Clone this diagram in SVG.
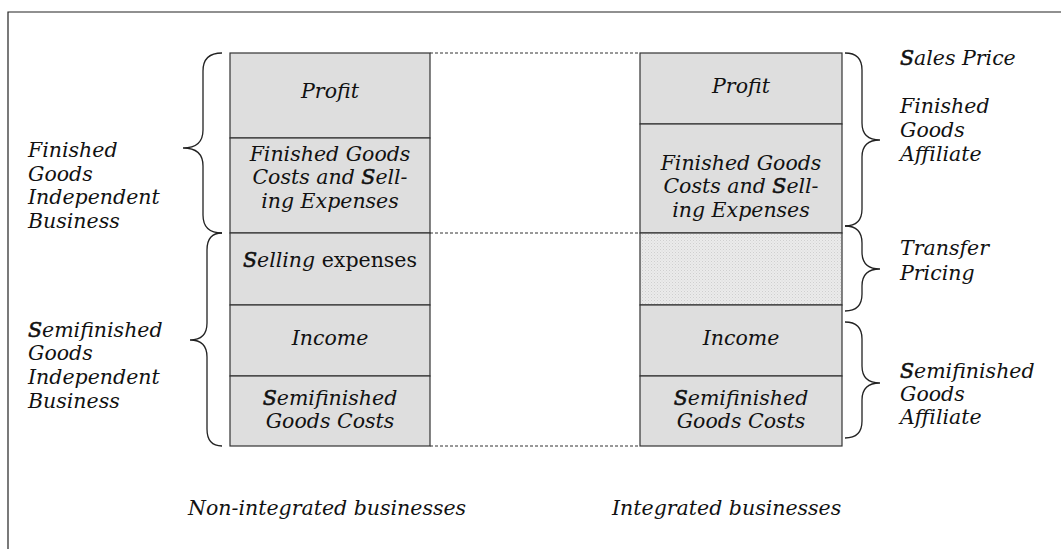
<svg xmlns="http://www.w3.org/2000/svg" width="1061" height="549" viewBox="0 0 1061 549">
  <style>
    text { font-family: "DejaVu Serif", "Liberation Serif", serif; font-style: italic; font-size: 20.5px; fill: #111; }
    .c { text-anchor: middle; }
    .up { font-style: normal; }
    .b { stroke: #111; stroke-width: 0.6; }
    .box { fill: #dedede; stroke: #333; stroke-width: 1.2; }
    .hatch { fill: url(#dots); stroke: #333; stroke-width: 1.2; }
    .brace { fill: none; stroke: #222; stroke-width: 1.3; }
    .dotted { stroke: #333; stroke-width: 1; stroke-dasharray: 3 2; fill: none; }
    .frame { stroke: #222; stroke-width: 1.2; fill: none; }
  </style>
  <defs>
    <pattern id="dots" width="3" height="3" patternUnits="userSpaceOnUse">
      <rect width="3" height="3" fill="#ebebeb"/>
      <rect x="0" y="0" width="1" height="1" fill="#cfcfcf"/>
      <rect x="1.5" y="1.5" width="1" height="1" fill="#d8d8d8"/>
    </pattern>
  </defs>
  <rect width="1061" height="549" fill="#fff"/>
  <path class="frame" d="M8,549 V12 H1061"/>

  <!-- dotted guide lines between the two columns -->
  <g id="connectors">
    <line class="dotted" x1="430" y1="53" x2="640" y2="53"/>
    <line class="dotted" x1="430" y1="233" x2="640" y2="233"/>
    <line class="dotted" x1="430" y1="446" x2="640" y2="446"/>
  </g>

  <!-- non-integrated column -->
  <g id="left-profit">
    <rect class="box" x="230" y="53" width="200" height="85"/>
    <text class="c" x="330" y="98">Profit</text>
  </g>
  <g id="left-finished-costs">
    <rect class="box" x="230" y="138" width="200" height="95"/>
    <text class="c" x="330" y="161">Finished Goods</text>
    <text class="c" x="330" y="184">Costs and <tspan class="b">S</tspan>ell-</text>
    <text class="c" x="330" y="208">ing Expenses</text>
  </g>
  <g id="left-selling">
    <rect class="box" x="230" y="233" width="200" height="72"/>
    <text class="c" x="330" y="267"><tspan class="b">S</tspan>elling <tspan class="up">expenses</tspan></text>
  </g>
  <g id="left-income">
    <rect class="box" x="230" y="305" width="200" height="71"/>
    <text class="c" x="330" y="345">Income</text>
  </g>
  <g id="left-semi-costs">
    <rect class="box" x="230" y="376" width="200" height="70"/>
    <text class="c" x="330" y="405"><tspan class="b">S</tspan>emifinished</text>
    <text class="c" x="330" y="428">Goods Costs</text>
  </g>

  <!-- integrated column -->
  <g id="right-profit">
    <rect class="box" x="640" y="53" width="202" height="71"/>
    <text class="c" x="741" y="93">Profit</text>
  </g>
  <g id="right-finished-costs">
    <rect class="box" x="640" y="124" width="202" height="109"/>
    <text class="c" x="741" y="170">Finished Goods</text>
    <text class="c" x="741" y="193">Costs and <tspan class="b">S</tspan>ell-</text>
    <text class="c" x="741" y="217">ing Expenses</text>
  </g>
  <g id="right-transfer">
    <rect class="hatch" x="640" y="233" width="202" height="72"/>
  </g>
  <g id="right-income">
    <rect class="box" x="640" y="305" width="202" height="71"/>
    <text class="c" x="741" y="345">Income</text>
  </g>
  <g id="right-semi-costs">
    <rect class="box" x="640" y="376" width="202" height="70"/>
    <text class="c" x="741" y="405"><tspan class="b">S</tspan>emifinished</text>
    <text class="c" x="741" y="428">Goods Costs</text>
  </g>

  <!-- left braces and labels -->
  <g id="brace-finished-independent">
    <path class="brace" d="M222,53 Q203,53 203,71 L203,130 Q203,148 183,148 Q203,148 203,166 L203,215 Q203,233 222,233"/>
    <text x="28" y="157">Finished</text>
    <text x="28" y="181">Goods</text>
    <text x="28" y="204">Independent</text>
    <text x="28" y="228">Business</text>
  </g>
  <g id="brace-semi-independent">
    <path class="brace" d="M222,233 Q207,233 207,250 L207,323 Q207,340 190,340 Q207,340 207,357 L207,429 Q207,446 222,446"/>
    <text x="28" y="337"><tspan class="b">S</tspan>emifinished</text>
    <text x="28" y="360">Goods</text>
    <text x="28" y="384">Independent</text>
    <text x="28" y="408">Business</text>
  </g>

  <!-- right braces and labels -->
  <g id="sales-price">
    <text x="900" y="65"><tspan class="b">S</tspan>ales Price</text>
  </g>
  <g id="brace-finished-affiliate">
    <path class="brace" d="M845,53 Q862,53 862,70 L862,123 Q862,140 880,140 Q862,140 862,157 L862,209 Q862,226 845,226"/>
    <text x="900" y="113">Finished</text>
    <text x="900" y="137">Goods</text>
    <text x="900" y="161">Affiliate</text>
  </g>
  <g id="brace-transfer-pricing">
    <path class="brace" d="M845,226 Q862,226 862,243 L862,252 Q862,269 880,269 Q862,269 862,286 L862,294 Q862,311 845,311"/>
    <text x="900" y="255">Transfer</text>
    <text x="900" y="280">Pricing</text>
  </g>
  <g id="brace-semi-affiliate">
    <path class="brace" d="M845,322 Q862,322 862,339 L862,366 Q862,383 880,383 Q862,383 862,400 L862,421 Q862,438 845,438"/>
    <text x="900" y="378"><tspan class="b">S</tspan>emifinished</text>
    <text x="900" y="401">Goods</text>
    <text x="900" y="424">Affiliate</text>
  </g>

  <!-- column captions -->
  <g id="captions">
    <text x="188" y="515">Non-integrated businesses</text>
    <text x="612" y="515">Integrated businesses</text>
  </g>
</svg>
